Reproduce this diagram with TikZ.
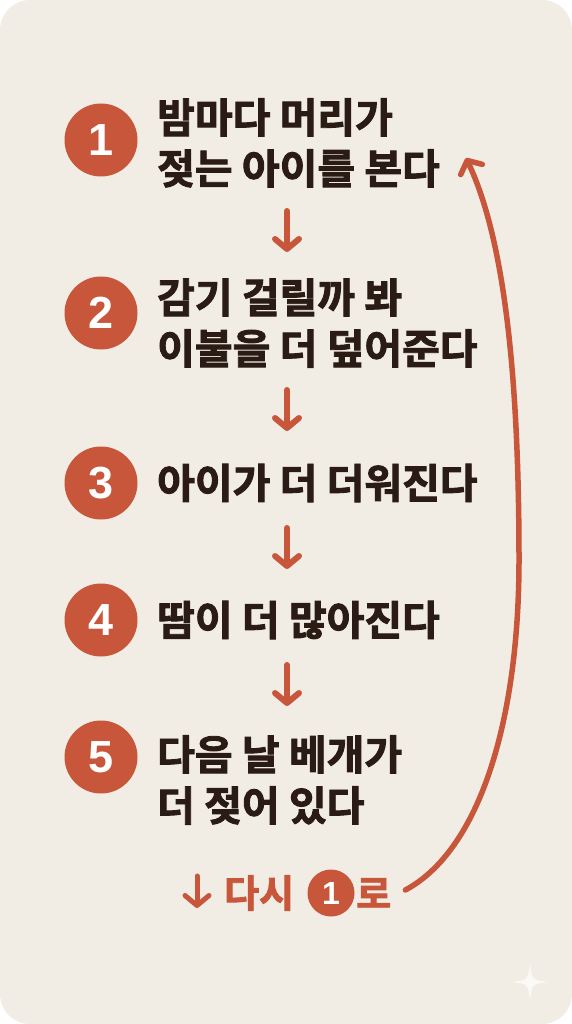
\documentclass[tikz,border=0pt]{standalone}
\usepackage{fontspec}
\setmainfont{Noto Sans CJK KR}[BoldFont={Noto Sans CJK KR Bold}, BoldFeatures={FakeBold=2.2}]
\newfontfamily\numfont{Liberation Sans}
\usepackage{tikz}
\usetikzlibrary{arrows.meta, positioning, calc}
\definecolor{paper}{RGB}{241, 237, 229}
\definecolor{clay}{RGB}{200, 86, 58}
\definecolor{ink}{RGB}{42, 28, 21}

\begin{document}
\begin{tikzpicture}[x=1pt, y=-1pt,
    stepnum/.style={circle, fill=clay, text=white, minimum size=73pt, inner sep=0pt,
      font=\numfont\fontsize{45}{45}\selectfont\bfseries},
    steptext/.style={anchor=west, align=left, text=ink, inner sep=0pt,
      font=\fontsize{41}{51}\selectfont\bfseries},
    downarrow/.style={clay, line width=6pt, line cap=round,
      -{Straight Barb[length=10pt, width=24pt, round]}},
    backtext/.style={anchor=west, text=clay, inner sep=0pt,
      font=\fontsize{38}{38}\selectfont\bfseries}]
        % Card
        \fill[white] (0,0) rectangle (572,1024);
        \fill[paper, rounded corners=30pt] (0,0) rectangle (572,1024);
        % Steps
        \node[stepnum] (n1) at (101,140) {1};
        \node[steptext] (t1) at (157,143) {밤마다 머리가\\젖는 아이를 본다};
        \node[stepnum] (n2) at (101,313) {2};
        \node[steptext] (t2) at (157,323) {감기 걸릴까 봐\\이불을 더 덮어준다};
        \node[stepnum] (n3) at (101,483) {3};
        \node[steptext] (t3) at (157,483) {아이가 더 더워진다};
        \node[stepnum] (n4) at (101,620) {4};
        \node[steptext] (t4) at (157,620) {땀이 더 많아진다};
        \node[stepnum] (n5) at (101,757) {5};
        \node[steptext] (t5) at (157,780) {다음 날 베개가\\더 젖어 있다};
        % Arrows down
        \foreach \i/\top/\bot in {1/211/252, 2/390/431, 3/528/569, 4/665/706}{
          \coordinate (a\i) at (287,\top);
          \coordinate (b\i) at (287,\bot);
          \draw[downarrow] (a\i) -- (b\i);
        }
        % Back to step one
        \coordinate (ba) at (197,876);
        \coordinate (bb) at (197,908);
        \draw[downarrow, line width=5pt] (ba) -- (bb);
        \node[backtext] (back) at (224,893) {다시};
        \node[stepnum, minimum size=47pt, font=\numfont\fontsize{32}{32}\selectfont\bfseries]
          (backnum) at (331,893) {1};
        \node[backtext] (backto) at (356,893) {로};
        \coordinate (top) at (466,158);
        \draw[downarrow, line width=5.5pt] (backto.east) ++(14,-3) coordinate (start)
          (start) .. controls (480,850) and (519,720) .. (519,560)
          .. controls (519,380) and (505,240) .. (top);
        % Sparkle
        \fill[white, opacity=0.7] (530,963) .. controls (532,980) .. (548,982)
          .. controls (532,984) .. (530,1001) .. controls (528,984) .. (512,982)
          .. controls (528,980) .. cycle;
      \end{tikzpicture}
\end{document}
